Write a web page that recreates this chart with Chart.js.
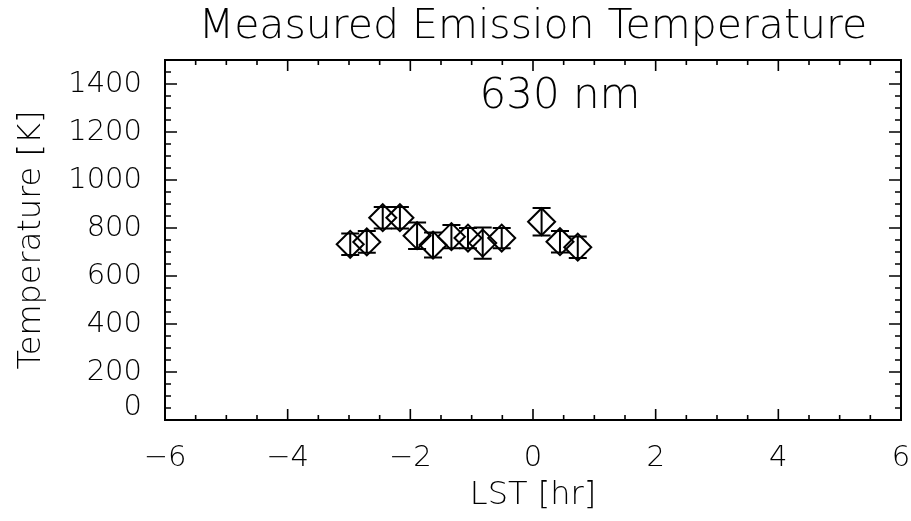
<!DOCTYPE html>
<html><head><meta charset="utf-8">
<script src="https://cdn.jsdelivr.net/npm/chart.js@4/dist/chart.umd.min.js"></script>
<style>html,body{margin:0;padding:0;background:#fff;}</style>
</head><body>
<canvas id="c" width="911" height="521"></canvas>
<script>
// ---- data ----
const lst = [-2.98, -2.71, -2.45, -2.17, -1.89, -1.63, -1.33, -1.06, -0.82, -0.51, 0.14, 0.44, 0.73];
const temperature = [732, 742, 843, 843, 768, 729, 764, 758, 737, 758, 826, 743, 720];
const tempError = [45, 45, 45, 45, 55, 52, 48, 42, 65, 42, 57, 45, 45];
const xTickValues = [-6, -4, -2, 0, 2, 4, 6];
const xTickLabels = ['\u22126', '\u22124', '\u22122', '0', '2', '4', '6'];
const yTickValues = [0, 200, 400, 600, 800, 1000, 1200, 1400];
const yTickLabels = ['0', '200', '400', '600', '800', '1000', '1200', '1400'];
const xRange = [-6, 6];
const yRange = [0, 1500];
const xMinorStep = 0.5;
const yMinorStep = 50;
const titleText = 'Measured Emission Temperature';
const xTitle = 'LST [hr]';
const yTitle = 'Temperature [K]';
const annotationText = '630 nm';
const annotationAt = [0.44, 1345];

const FONT = "'DejaVu Sans', 'Liberation Sans', sans-serif";

const framePlugin = {
  id: 'frame',
  afterDatasetsDraw(chart) {
    const ctx = chart.ctx, xs = chart.scales.x, ys = chart.scales.y;
    ctx.save();
    ctx.strokeStyle = '#000';
    ctx.lineWidth = 2;
    const cap = 9;
    for (let i = 0; i < lst.length; i++) {
      const px = xs.getPixelForValue(lst[i]);
      const pTop = ys.getPixelForValue(temperature[i] + tempError[i]);
      const pBot = ys.getPixelForValue(temperature[i] - tempError[i]);
      ctx.beginPath();
      ctx.moveTo(px, pTop); ctx.lineTo(px, pBot);
      ctx.moveTo(px - cap, pTop); ctx.lineTo(px + cap, pTop);
      ctx.moveTo(px - cap, pBot); ctx.lineTo(px + cap, pBot);
      ctx.stroke();
    }
    ctx.restore();
  },
  afterDraw(chart) {
    const ctx = chart.ctx, xs = chart.scales.x, ys = chart.scales.y;
    const a = chart.chartArea;
    ctx.save();
    ctx.strokeStyle = '#000';
    ctx.lineWidth = 2;
    ctx.strokeRect(a.left, a.top, a.right - a.left, a.bottom - a.top);
    ctx.lineWidth = 1.6;
    ctx.beginPath();
    const nx = Math.round((xRange[1] - xRange[0]) / xMinorStep);
    for (let k = 0; k <= nx; k++) {
      const v = xRange[0] + k * xMinorStep;
      const major = xTickValues.some(t => Math.abs(t - v) < 1e-9);
      const len = major ? 11 : 5;
      const px = xs.getPixelForValue(v);
      ctx.moveTo(px, a.bottom); ctx.lineTo(px, a.bottom - len);
      ctx.moveTo(px, a.top); ctx.lineTo(px, a.top + len);
    }
    const ny = Math.round((yRange[1] - yRange[0]) / yMinorStep);
    for (let k = 0; k <= ny; k++) {
      const v = yRange[0] + k * yMinorStep;
      const major = yTickValues.some(t => Math.abs(t - v) < 1e-9);
      const len = major ? 12 : 6;
      const py = ys.getPixelForValue(v);
      ctx.moveTo(a.left, py); ctx.lineTo(a.left + len, py);
      ctx.moveTo(a.right, py); ctx.lineTo(a.right - len, py);
    }
    ctx.stroke();
    ctx.fillStyle = '#000';
    ctx.font = '300 42px ' + FONT;
    ctx.textAlign = 'center';
    ctx.textBaseline = 'middle';
    ctx.fillText(annotationText, xs.getPixelForValue(annotationAt[0]), ys.getPixelForValue(annotationAt[1]));
    ctx.restore();
  }
};

new Chart(document.getElementById('c'), {
  type: 'scatter',
  data: {
    datasets: [{
      data: lst.map((x, i) => ({ x: x, y: temperature[i] })),
      pointStyle: 'rectRot',
      pointRadius: 13.5,
      pointHoverRadius: 13.5,
      borderColor: '#000',
      backgroundColor: 'rgba(0,0,0,0)',
      borderWidth: 2,
      showLine: false
    }]
  },
  options: {
    responsive: false,
    animation: false,
    devicePixelRatio: 1,
    layout: { autoPadding: false, padding: { left: 0, right: 10, top: 0, bottom: 0 } },
    plugins: {
      legend: { display: false },
      tooltip: { enabled: false },
      title: {
        display: true,
        text: titleText,
        fullSize: false,
        color: '#000',
        font: { family: FONT, size: 41, weight: '300', lineHeight: 1.2 },
        padding: { top: 3, bottom: 7.8 }
      }
    },
    scales: {
      x: {
        type: 'linear',
        min: xRange[0], max: xRange[1],
        grid: { display: false },
        border: { display: false },
        afterBuildTicks(s) { s.ticks = xTickValues.map(v => ({ value: v })); },
        afterFit(s) { s.height = 101; s.paddingLeft = 0; s.paddingRight = 0; },
        ticks: {
          color: '#000',
          padding: 13,
          maxRotation: 0,
          autoSkip: false,
          font: { family: FONT, size: 29, weight: '300', lineHeight: 1.2 },
          callback(v) { const i = xTickValues.indexOf(v); return i >= 0 ? xTickLabels[i] : ''; }
        },
        title: {
          display: true, text: xTitle, color: '#000',
          font: { family: FONT, size: 32, weight: '300', lineHeight: 1.2 },
          padding: { top: 0, bottom: 6 }
        }
      },
      y: {
        type: 'linear',
        min: yRange[0], max: yRange[1],
        grid: { display: false },
        border: { display: false },
        afterBuildTicks(s) { s.ticks = yTickValues.map(v => ({ value: v })); },
        afterFit(s) { s.width = 165; s.paddingTop = 0; s.paddingBottom = 0; },
        ticks: {
          color: '#000',
          padding: 15,
          autoSkip: false,
          font(ctx) {
            return { family: FONT, size: 29, weight: '300', lineHeight: ctx.index === 0 ? 0.85 : 1.2 };
          },
          callback(v) {
            const i = yTickValues.indexOf(v);
            if (i < 0) return '';
            return i === 0 ? [yTickLabels[i], ''] : yTickLabels[i];
          }
        },
        title: {
          display: true, text: yTitle, color: '#000',
          font: { family: FONT, size: 32, weight: '300', lineHeight: 1.2 },
          padding: { top: 12, bottom: 0 }
        }
      }
    }
  },
  plugins: [framePlugin]
});
</script>
</body></html>
